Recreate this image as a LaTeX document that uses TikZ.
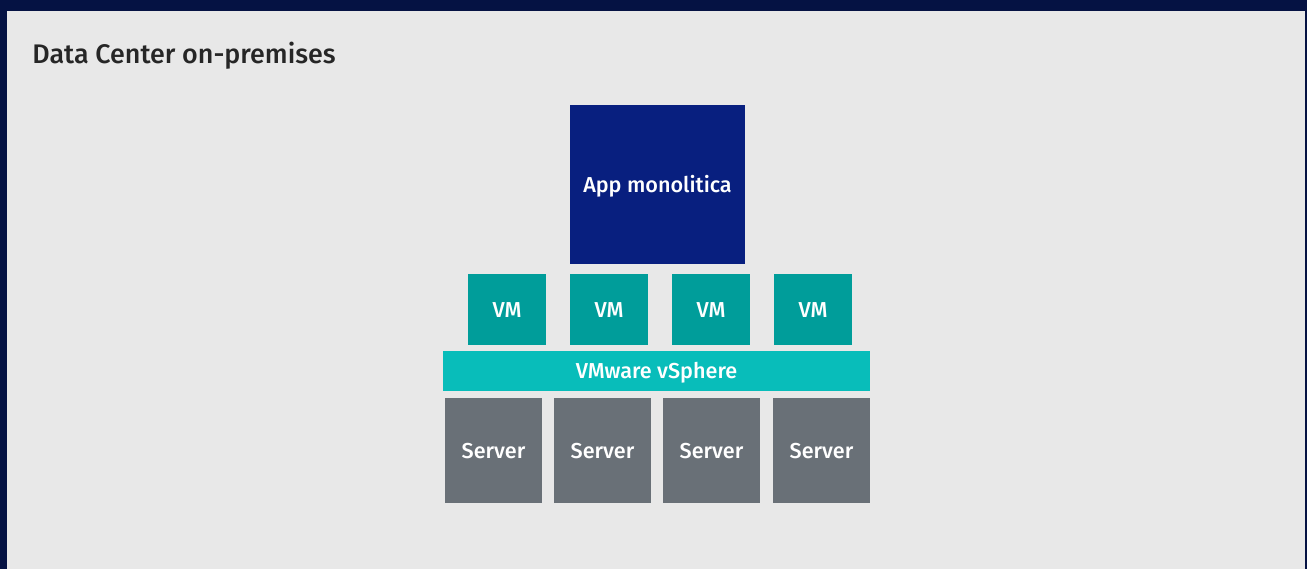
\documentclass[tikz,border=0pt]{standalone}
\usepackage{fontspec}
\setmainfont{Fira Sans}[UprightFont=* Medium]
\usetikzlibrary{positioning}

\definecolor{frameblue}{HTML}{051243}
\definecolor{panelgray}{HTML}{E8E8E8}
\definecolor{appblue}{HTML}{081F7F}
\definecolor{vmteal}{HTML}{009D9A}
\definecolor{vsphcyan}{HTML}{08BDBA}
\definecolor{srvgray}{HTML}{697077}

\tikzset{
    block/.style={inner sep=0pt, text=white, text height=0.88em, text depth=0pt, font=\fontsize{12.3}{14}\selectfont},
    vmbox/.style={block, fill=vmteal, minimum width=1.56cm, minimum height=1.42cm},
    srvbox/.style={block, fill=srvgray, minimum width=1.94cm, minimum height=2.1cm}
}

\begin{document}
\begin{tikzpicture}[x=0.02cm, y=-0.02cm]
    \useasboundingbox (0, 0) rectangle (1307, 569);
    \fill[frameblue] (0, 0) rectangle (1307, 569);
    \fill[panelgray] (7, 11) rectangle (1305, 569);
    \node[anchor=west, inner sep=0pt, text=black!85, font=\fontsize{15.3}{18}\selectfont] (title) at (32, 55.5) {Data Center on-premises};
    % app on top
    \node[block, fill=appblue, minimum width=3.5cm, minimum height=3.18cm] (app) at (657.5, 184.5) {App monolitica};
    % vms
    \foreach \i/\x in {1/507, 2/609, 3/711, 4/813}
        \node[vmbox] (vm\i) at (\x, 309.5) {VM};
    \node[block, fill=vsphcyan, minimum width=8.54cm, minimum height=0.8cm] (vsphere) at (656.5, 371) {VMware vSphere};
    % servers
    \foreach \i/\x in {1/493.5, 2/602.5, 3/711.5, 4/821.5}
        \node[srvbox] (srv\i) at (\x, 450.5) {Server};
\end{tikzpicture}
\end{document}
